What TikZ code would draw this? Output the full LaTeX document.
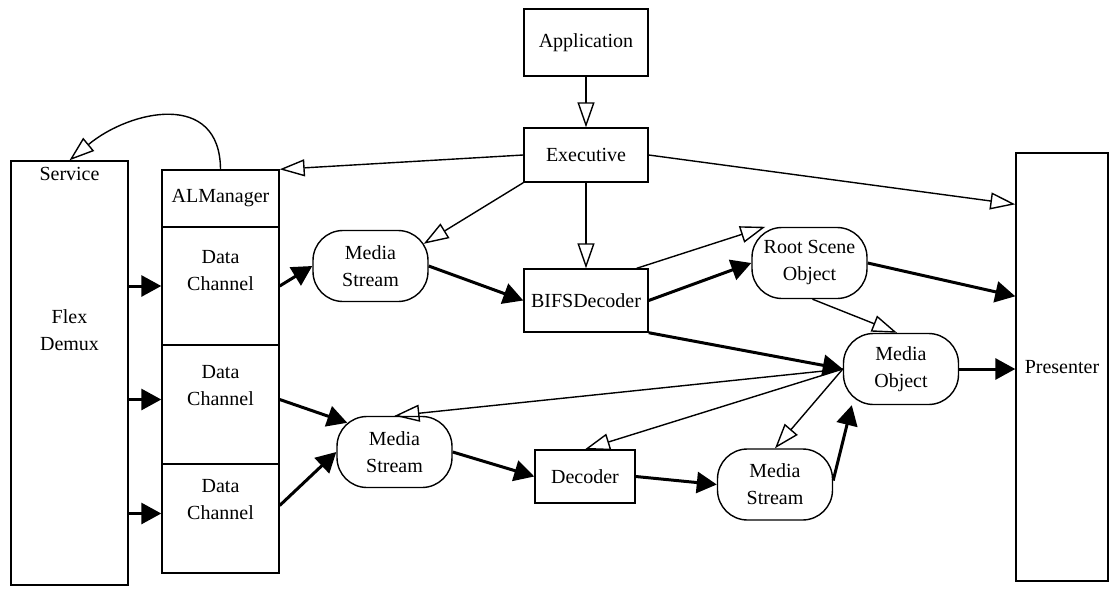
\documentclass[tikz,border=0pt]{standalone}
\usepackage{fontspec}
\setmainfont{Liberation Serif}
\usetikzlibrary{positioning,calc,arrows.meta}

\begin{document}
\begin{tikzpicture}[x=1pt, y=-1pt,
  every node/.style={align=center, font=\fontsize{20}{27}\selectfont, inner sep=0pt},
  box/.style={draw, line width=1.4pt, rectangle},
  stream/.style={draw, line width=1.4pt, rectangle, rounded corners=30pt, minimum width=115, minimum height=71},
  ctrl/.style={line width=1.4pt, -{Triangle[open, length=25pt, width=17pt]}},
  flow/.style={line width=3pt, -{Triangle[length=20pt, width=21pt]}}]
\useasboundingbox (0,0) rectangle (1120,605);
% left side: demux and AL column
\node (demux) [box, minimum width=117, minimum height=424] at (69.5,373) {};
\node (svc) at (69.5,174) {Service};
\node (flex) at (69.5,330) {Flex\\Demux};
\node (almgr) [box, minimum width=117, minimum height=57] at (220.5,198.5) {ALManager};
\node (dc1) [box, minimum width=117, minimum height=118] at (220.5,286) {};
\node (dc2) [box, minimum width=117, minimum height=119] at (220.5,404.5) {};
\node (dc3) [box, minimum width=117, minimum height=109] at (220.5,518.5) {};
\node (dc1txt) at (220.5,271) {Data\\Channel};
\node (dc2txt) at (220.5,386) {Data\\Channel};
\node (dc3txt) at (220.5,500) {Data\\Channel};
% middle
\node (app) [box, minimum width=124, minimum height=67] at (586,42.5) {Application};
\node (exec) [box, minimum width=124, minimum height=54] at (586,155) {Executive};
\node (bifs) [box, minimum width=124, minimum height=63] at (586,300.5) {BIFSDecoder};
\node (dec) [box, minimum width=100, minimum height=53] at (585,476.5) {Decoder};
\node (ms1) [stream] at (370.5,266) {Media\\Stream};
\node (ms2) [stream] at (394.5,452) {Media\\Stream};
\node (ms3) [stream] at (775,484.5) {Media\\Stream};
\node (root) [stream] at (809.5,263) {Root Scene\\Object};
\node (mobj) [stream] at (901,369) {Media\\Object};
\node (pres) [box, minimum width=92, minimum height=428] at (1062,367) {Presenter};
% control
\draw[ctrl] (app) -- (exec);
\draw[ctrl] (exec) -- (bifs);
\draw[ctrl] (exec.west) -- (almgr.north east);
\draw[ctrl] (exec.south west) -- ($(ms1.north east)+(-5,14)$);
\draw[ctrl] (exec.east) -- ($(pres.north west)+(0,52)$);
\draw[ctrl] ($(bifs.north east)+(-12,0)$) -- ($(root.north west)+(14,0)$);
\draw[ctrl] ($(root.south)+(3,0)$) -- ($(mobj.north)+(-4,0)$);
\draw[ctrl] (mobj.west) -- (ms2.north);
\draw[ctrl] (mobj.west) -- (dec.north);
\draw[ctrl] (mobj.west) -- (ms3.north);
\draw[ctrl] (almgr.north) .. controls (220,90) and (130,110) .. (demux.north);
% data
\draw[flow] (demux.east |- dc1.west) -- (dc1.west);
\draw[flow] ([yshift=5pt]dc2.west -| demux.east) -- ([yshift=5pt]dc2.west);
\draw[flow] ([yshift=5pt]dc3.west -| demux.east) -- ([yshift=5pt]dc3.west);
\draw[flow] (dc1.east) -- (ms1.west);
\draw[flow] (ms1.east) -- (bifs.west);
\draw[flow] ([yshift=5pt]dc2.east) -- ($(ms2.north west)+(11,7)$);
\draw[flow] ([yshift=13pt]dc3.east) -- (ms2.west);
\draw[flow] (bifs.east) -- (root.west);
\draw[flow] (bifs.south east) -- (mobj.west);
\draw[flow] (root.east) -- ($(pres.north west)+(0,144)$);
\draw[flow] (mobj.east) -- (mobj.east -| pres.west);
\draw[flow] (ms2.east) -- (dec.west);
\draw[flow] (dec.east) -- (ms3.west);
\draw[flow] ([yshift=4pt]ms3.east) -- ($(mobj.south west)+(9,0)$);
\end{tikzpicture}
\end{document}
